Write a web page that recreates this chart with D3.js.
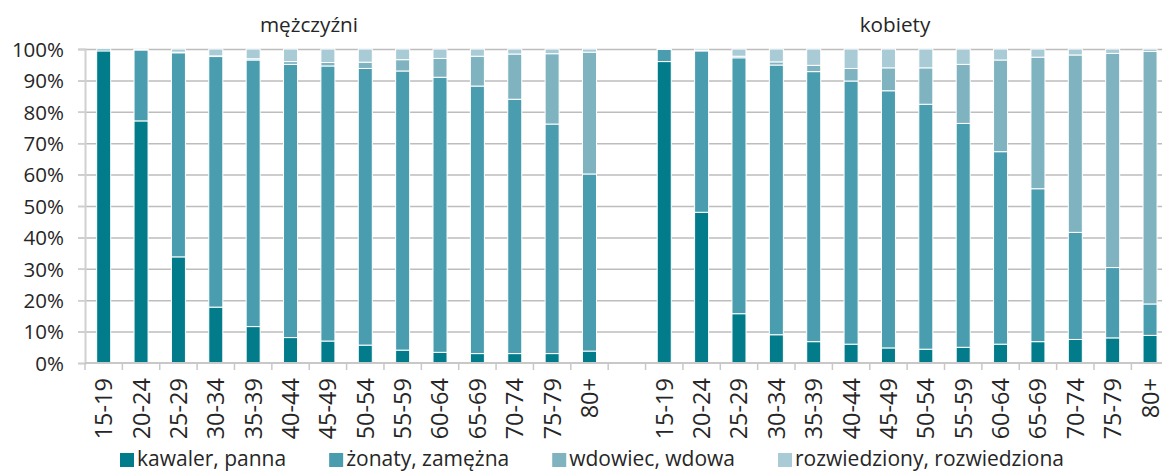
<!DOCTYPE html>
<html>
<head>
<meta charset="utf-8">
<script src="https://cdn.jsdelivr.net/npm/d3@7"></script>
<style>
  body { margin: 0; background: #fff; }
  svg { display: block; font-family: "Open Sans", sans-serif; }
</style>
</head>
<body>
<svg width="1162" height="471"></svg>
<script>
var ageGroups = ['15-19','20-24','25-29','30-34','35-39','40-44','45-49','50-54','55-59','60-64','65-69','70-74','75-79','80+'];
var panels = ['mężczyźni', 'kobiety'];
var statuses = ['kawaler, panna', 'żonaty, zamężna', 'wdowiec, wdowa', 'rozwiedziony, rozwiedziona'];
var colors = ['#027b8b', '#4a9daf', '#80b3c0', '#a9cbd6'];

// shares in % per age group
var menSingle   = [99.4, 77.1, 33.8, 17.8, 11.6, 8.1, 7.0, 5.7, 4.1, 3.4, 3.0, 3.0, 3.0, 3.8];
var menMarried  = [0.6, 22.6, 65.0, 79.8, 84.9, 87.0, 87.6, 88.1, 88.9, 87.6, 85.2, 81.0, 73.1, 56.4];
var menWidowed  = [0, 0.1, 0.2, 0.2, 0.4, 0.9, 1.1, 2.0, 3.6, 6.0, 9.5, 14.4, 22.4, 38.8];
var menDivorced = [0, 0.2, 1.0, 2.2, 3.1, 4.0, 4.3, 4.2, 3.4, 3.0, 2.3, 1.6, 1.5, 1.0];

var womenSingle   = [96.0, 48.0, 15.7, 9.0, 6.8, 6.0, 4.8, 4.4, 5.0, 6.0, 6.8, 7.5, 8.0, 8.8];
var womenMarried  = [3.9, 51.4, 81.5, 85.9, 86.0, 83.8, 81.9, 78.0, 71.3, 61.3, 48.7, 34.1, 22.4, 10.0];
var womenWidowed  = [0.05, 0.1, 0.5, 1.0, 2.0, 4.0, 7.3, 11.6, 18.8, 29.2, 41.9, 56.5, 68.2, 80.4];
var womenDivorced = [0.05, 0.5, 2.3, 4.1, 5.2, 6.2, 6.0, 6.0, 4.9, 3.5, 2.6, 1.9, 1.4, 0.8];

var yTicks = d3.range(0, 101, 10);

// rows: men, one empty slot, women
var rows = [];
ageGroups.forEach(function (a, i) {
  rows.push({key: 'm' + i, label: a, s: [menSingle[i], menMarried[i], menWidowed[i], menDivorced[i]]});
});
rows.push({key: 'gap', label: '', s: [0, 0, 0, 0]});
ageGroups.forEach(function (a, i) {
  rows.push({key: 'k' + i, label: a, s: [womenSingle[i], womenMarried[i], womenWidowed[i], womenDivorced[i]]});
});

var plotLeft = 85, plotTop = 49, plotBottom = 363, step = 37.37;
var svg = d3.select('svg');

var x = d3.scaleBand()
          .domain(rows.map(d=>d.key))
          .range([plotLeft, plotLeft + step * rows.length])
          .paddingInner(0.625)
          .paddingOuter(0.3125);
var y = d3.scaleLinear().domain([0, 100]).range([plotBottom, plotTop]);

// gridlines + left ticks
svg.append('g')
   .attr('transform', `translate(${plotLeft - 7},0)`)
   .call(d3.axisRight(y).tickValues(yTicks.slice(1)).tickSize(1162).tickFormat(''))
   .call(g => g.select('.domain').remove())
   .call(g => g.selectAll('line').attr('stroke', '#bdbdbd').attr('stroke-width', 1.5));

var yAxis = svg.append('g')
   .attr('transform', `translate(${plotLeft},0)`)
   .call(d3.axisLeft(y).tickValues(yTicks).tickSize(7).tickPadding(14).tickFormat(d=>d + '%'));
yAxis.select('.domain').attr('stroke', '#d0d0d0').attr('stroke-width', 2);
yAxis.selectAll('line').attr('stroke', '#d0d0d0').attr('stroke-width', 1.5);
yAxis.selectAll('text').attr('font-size', 20.5).attr('fill', '#262626')
     .attr('font-family', '"Open Sans", sans-serif').attr('dy', '0.36em');

// stacked bars
var stack = d3.stack()
              .keys([0, 1, 2, 3])
              .value((d, k) => d.s[k]);
var series = stack(rows);

svg.append('g').selectAll('g')
   .data(series)
   .enter().append('g')
     .attr('fill', (d, i) => colors[i])
   .selectAll('rect')
   .data(d => d.filter(p => p[1] - p[0] > 0))
   .enter().append('rect')
     .attr('x', d => x(d.data.key))
     .attr('width', x.bandwidth())
     .attr('y', d => y(d[1]))
     .attr('height', d => y(d[0]) - y(d[1]))
     .attr('stroke', '#fff')
     .attr('stroke-width', 1);

// x axis line and boundary ticks
svg.append('line')
   .attr('x1', plotLeft).attr('x2', 1162)
   .attr('y1', plotBottom).attr('y2', plotBottom)
   .attr('stroke', '#c8c8c8').attr('stroke-width', 2);
svg.append('g').selectAll('line')
   .data(d3.range(rows.length + 1))
   .enter().append('line')
     .attr('x1', i => plotLeft + i * x.step())
     .attr('x2', i => plotLeft + i * x.step())
     .attr('y1', plotBottom).attr('y2', plotBottom + 7)
     .attr('stroke', '#c8c8c8').attr('stroke-width', 1.5);

svg.append('g').selectAll('text')
   .data(rows.filter(d => d.label))
   .enter().append('text')
     .attr('transform', d => `translate(${x(d.key) + x.bandwidth() / 2},378) rotate(-90)`)
     .attr('text-anchor', 'end')
     .attr('dy', '0.36em')
     .attr('font-size', 23.5)
     .attr('fill', '#262626')
     .text(d => d.label);

// panel titles
svg.selectAll('.title')
   .data(panels)
   .enter().append('text')
     .attr('class', 'title')
     .attr('x', (d, i) => i === 0 ? 309 : 895)
     .attr('y', 32)
     .attr('text-anchor', 'middle')
     .attr('font-size', 20.7)
     .attr('fill', '#262626')
     .text(d => d);

// legend
var legend = svg.append('g');
var lx = 120;
statuses.forEach(function (s, i) {
  var item = legend.append('g').attr('transform', `translate(${lx},453)`);
  item.append('rect').attr('width', 14).attr('height', 14).attr('fill', colors[i]);
  var t = item.append('text')
              .attr('x', 17).attr('y', 13)
              .attr('font-size', 21)
              .attr('fill', '#262626')
              .text(s);
  lx += 17 + t.node().getComputedTextLength() + 43;
});
</script>
</body>
</html>
